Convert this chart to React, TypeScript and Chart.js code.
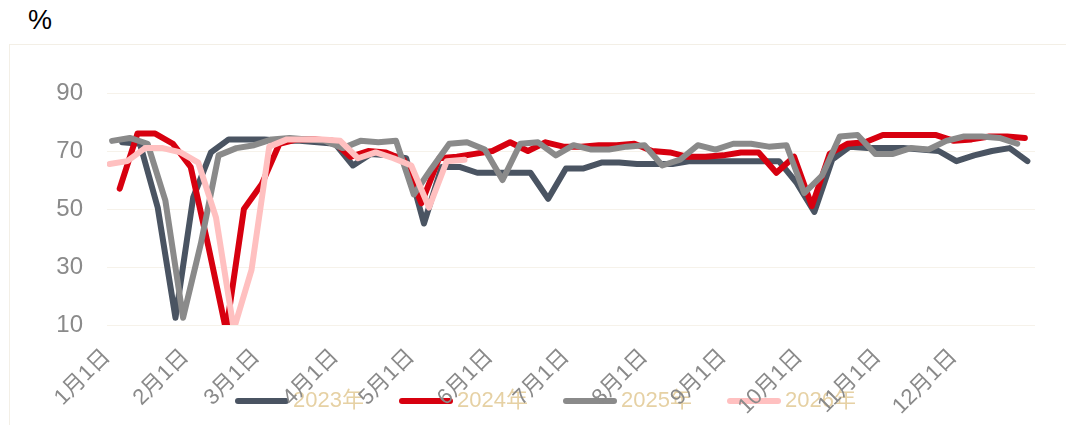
import React, { useEffect, useRef } from "react";
import { Chart, registerables } from "chart.js";

Chart.register(...registerables);

// ---- axis data ----
const monthTickDays = [0, 31, 59, 90, 120, 151, 181, 212, 243, 273, 304, 334];
const monthTickLabels = [
  "1月1日", "2月1日", "3月1日", "4月1日", "5月1日", "6月1日",
  "7月1日", "8月1日", "9月1日", "10月1日", "11月1日", "12月1日",
];
const yTickValues = [10, 30, 50, 70, 90];
const unitLabel = "%";

// ---- series ----
const seriesNames = ["2023年", "2024年", "2025年", "2026年"];
const seriesColors = ["#4a5462", "#d7000f", "#8a8a8a", "#ffc0c0"];

// day-of-year of the first weekly observation of each year
const firstDay2023 = 6;
const firstDay2024 = 5;
const firstDay2025 = 2;
const firstDay2026 = 1;

const values2023 = [
  73, 72.5, 50.5, 12.5, 54, 69.5, 74, 74, 74, 73.5, 73.5, 73, 72.5,
  65, 69, 68.5, 67.5, 45, 64.5, 64.5, 62.5, 62.5, 62.5, 62.5, 53.5, 64,
  64, 66, 66, 65.5, 65.5, 65.5, 66.5, 66.5, 66.5, 66.5, 66.5, 66.5, 59,
  49, 67, 71.5, 71, 71, 71, 70.5, 70, 66.5, 68.5, 70, 71, 66.5,
];
const values2024 = [
  57, 76, 76, 72.5, 64.5, 37, 8, 50, 58.5, 72.5, 74, 74, 73.5,
  68, 70, 69.5, 67, 52, 67.5, 68, 69, 70, 73, 70, 73, 71.5,
  71.5, 72, 72, 72.5, 70, 69.5, 68, 68, 68.5, 69.5, 69.5, 62.5, 68,
  51, 69, 72.5, 73, 75.5, 75.5, 75.5, 75.5, 73.5, 74, 75, 75, 74.5,
];
const values2025 = [
  73.5, 74.5, 72.5, 53, 12.5, 38, 68.5, 71, 72, 74, 74.5, 74, 73.5,
  71, 73.5, 73, 73.5, 55, 64, 72.5, 73, 70.5, 60, 72.5, 73, 68.5,
  72, 70.5, 70.5, 71.5, 72, 65, 67, 72, 70.5, 72.5, 72.5, 71.5, 72,
  55.5, 61.5, 75, 75.5, 69, 69, 71, 70.5, 73.5, 75, 75, 74.5, 72.5,
];
const values2026 = [
  65.5, 66.5, 71, 71, 69.5, 66, 47, 8.5, 29, 71.5, 74, 74, 74,
  73.5, 67.5, 69.5, 67.5, 65, 50.5, 66.5, 67,
];

const seriesFirstDays = [firstDay2023, firstDay2024, firstDay2025, firstDay2026];
const seriesValues = [values2023, values2024, values2025, values2026];

const FONT = "'Liberation Sans', Arial, 'Noto Sans CJK SC', sans-serif";
const legendTextColor = "#e6d1a4";
const tickColor = "#8a8a8a";
const gridColor = "#f6f2ea";

const legendPlugin = {
  id: "bottomLegend",
  beforeDraw(chart: any) {
    const ctx = chart.ctx as CanvasRenderingContext2D;
    const y = 356;
    let x = 225;
    ctx.save();
    ctx.font = `22px ${FONT}`;
    ctx.textBaseline = "middle";
    ctx.textAlign = "left";
    chart.data.datasets.forEach((ds: any) => {
      ctx.strokeStyle = ds.borderColor;
      ctx.lineWidth = 6;
      ctx.lineCap = "round";
      ctx.beginPath();
      ctx.moveTo(x + 3, y);
      ctx.lineTo(x + 51, y);
      ctx.stroke();
      ctx.fillStyle = legendTextColor;
      ctx.fillText(ds.label, x + 58, y);
      x += 164;
    });
    ctx.restore();
  },
};

export default function App() {
  const canvasRef = useRef<HTMLCanvasElement | null>(null);

  useEffect(() => {
    if (!canvasRef.current) return;
    Chart.defaults.font.family = FONT;
    const datasets = seriesNames.map((name, s) => ({
      label: name,
      data: seriesValues[s].map((v, i) => ({ x: seriesFirstDays[s] + 7 * i, y: v })),
      borderColor: seriesColors[s],
      backgroundColor: seriesColors[s],
      borderWidth: 6,
      pointRadius: 0,
      pointHoverRadius: 0,
      tension: 0,
      borderJoinStyle: "round" as const,
      borderCapStyle: "round" as const,
      fill: false,
      order: seriesNames.length - 1 - s,
    }));

    const chart = new Chart(canvasRef.current, {
      type: "line",
      data: { datasets },
      options: {
        animation: false,
        responsive: false,
        events: [],
        layout: { padding: { left: 0, right: 33, top: 48, bottom: 0 } },
        plugins: {
          legend: { display: false },
          tooltip: { enabled: false },
        },
        scales: {
          x: {
            type: "linear",
            min: 0,
            max: 366,
            afterBuildTicks: (scale: any) => {
              scale.ticks = monthTickDays.map((v) => ({ value: v }));
            },
            afterFit: (scale: any) => {
              scale.height = 100;
            },
            grid: { display: false, drawTicks: false },
            border: { display: false },
            ticks: {
              autoSkip: false,
              minRotation: 45,
              maxRotation: 45,
              padding: 19,
              color: tickColor,
              font: { size: 22 },
              callback: (_v: any, i: number) => monthTickLabels[i],
            },
          },
          y: {
            min: 10,
            max: 90,
            afterBuildTicks: (scale: any) => {
              scale.ticks = yTickValues.map((v) => ({ value: v }));
            },
            afterFit: (scale: any) => {
              scale.width = 97;
            },
            grid: { color: gridColor, drawTicks: false, lineWidth: 1 },
            border: { display: false },
            ticks: {
              padding: 24,
              color: tickColor,
              font: { size: 24 },
            },
          },
        },
      },
      plugins: [legendPlugin],
    });
    return () => chart.destroy();
  }, []);

  return (
    <div style={{ position: "relative", width: 1058, height: 417 }}>
      <span
        style={{
          position: "absolute",
          left: 20,
          top: -1,
          fontFamily: FONT,
          fontSize: 27,
          lineHeight: "27px",
          color: "#000",
        }}
      >
        {unitLabel}
      </span>
      <div
        style={{
          position: "absolute",
          left: 1,
          top: 36,
          width: 1060,
          height: 381,
          borderTop: "1px solid #f3efe6",
          borderLeft: "1px solid #f3efe6",
          borderRight: "1px solid #f3efe6",
        }}
      >
        <canvas
          ref={canvasRef}
          width={1058}
          height={380}
          style={{ position: "absolute", left: 0, top: 0, width: 1058, height: 380 }}
        />
      </div>
    </div>
  );
}
